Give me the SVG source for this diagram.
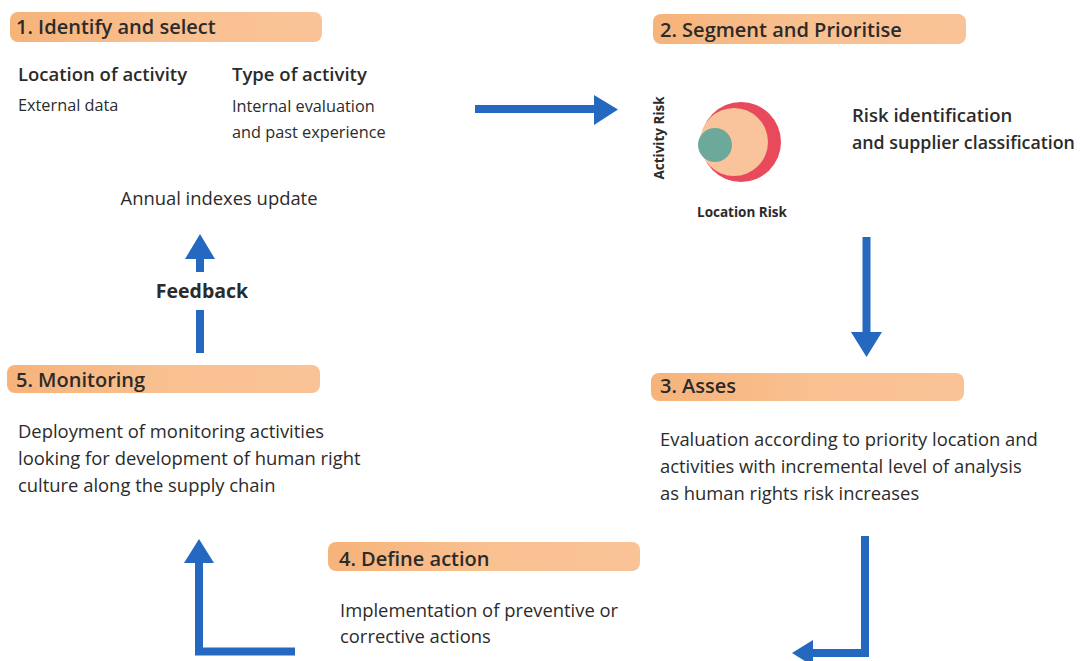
<svg xmlns="http://www.w3.org/2000/svg" width="1081" height="661" viewBox="0 0 1081 661">
<defs>
<linearGradient id="bar" x1="0" y1="0" x2="1" y2="0">
<stop offset="0" stop-color="#F6B37A"/>
<stop offset="0.5" stop-color="#F9C090"/>
<stop offset="1" stop-color="#FAC397"/>
</linearGradient>
</defs>
<style>
text{font-family:"Open Sans","Noto Sans",sans-serif;fill:#2b2b2b}
.h{font-size:20px;font-weight:600}
.sub{font-size:18.5px;font-weight:600}
.b{font-size:16.3px;font-weight:500}
.t{font-size:18.4px;font-weight:500}
.bar{fill:url(#bar)}
.arr{stroke:#2468BF;stroke-width:8;fill:none}
</style>
<rect width="1081" height="661" fill="#ffffff"/>

<g id="node1">
<rect class="bar" x="10" y="12" width="312" height="30" rx="8"/>
<text class="h" x="16" y="34">1. Identify and select</text>
<text class="sub" x="18" y="81">Location of activity</text>
<text class="sub" x="232" y="81">Type of activity</text>
<text class="b" x="18" y="111">External data</text>
<text class="b" x="232" y="112">Internal evaluation</text>
<text class="b" x="232" y="138">and past experience</text>
<text class="t" x="219" y="205" text-anchor="middle">Annual indexes update</text>
</g>

<g id="node2">
<rect class="bar" x="653" y="14" width="313" height="30" rx="8"/>
<text class="h" x="660" y="37">2. Segment and Prioritise</text>
<circle cx="741" cy="142" r="40" fill="#E84A5C"/>
<circle cx="734" cy="142" r="34" fill="#F9C39C"/>
<circle cx="715" cy="145" r="17" fill="#6CA99A"/>
<text x="664" y="138" transform="rotate(-90 664 138)" text-anchor="middle" style="font-size:13.5px;font-weight:700">Activity Risk</text>
<text x="742" y="217" text-anchor="middle" style="font-size:13.5px;font-weight:700">Location Risk</text>
<text class="sub" x="852" y="122">Risk identification</text>
<text class="sub" x="852" y="149" style="font-size:17.8px">and supplier classification</text>
</g>

<g id="node3">
<rect class="bar" x="651" y="373" width="313" height="28" rx="8"/>
<text class="h" x="660" y="393">3. Asses</text>
<text class="t" x="660" y="446">Evaluation according to priority location and</text>
<text class="t" x="660" y="473">activities with incremental level of analysis</text>
<text class="t" x="660" y="500">as human rights risk increases</text>
</g>

<g id="node4">
<rect class="bar" x="328" y="542" width="312" height="29" rx="8"/>
<text class="h" x="339" y="566">4. Define action</text>
<text class="t" x="340" y="617">Implementation of preventive or</text>
<text class="t" x="340" y="643">corrective actions</text>
</g>

<g id="node5">
<rect class="bar" x="7" y="365" width="313" height="28" rx="8"/>
<text class="h" x="16" y="387">5. Monitoring</text>
<text class="t" x="18" y="438">Deployment of monitoring activities</text>
<text class="t" x="18" y="465">looking for development of human right</text>
<text class="t" x="18" y="492">culture along the supply chain</text>
<text x="202" y="298" text-anchor="middle" style="font-size:19.5px;font-weight:700">Feedback</text>
</g>

<g id="connectors">
<path class="arr" d="M475,109 H594"/>
<path d="M594,95 L618,109.5 L594,125 Z" fill="#2468BF"/>
<path class="arr" d="M866.5,237 V332"/>
<path d="M851,332 L882,332 L866.5,357 Z" fill="#2468BF"/>
<path class="arr" d="M865,536 V653 H813" stroke-linejoin="miter"/>
<path d="M813,640 L813,666 L792,653 Z" fill="#2468BF"/>
<path class="arr" d="M295,651.5 H199 V563" stroke-linejoin="miter"/>
<path d="M184,563 L214,563 L199,539 Z" fill="#2468BF"/>
<path class="arr" d="M200,353 V310"/>
<path class="arr" d="M200,272 V258"/>
<path d="M185,259 L215,259 L200,234 Z" fill="#2468BF"/>
</g>
</svg>
